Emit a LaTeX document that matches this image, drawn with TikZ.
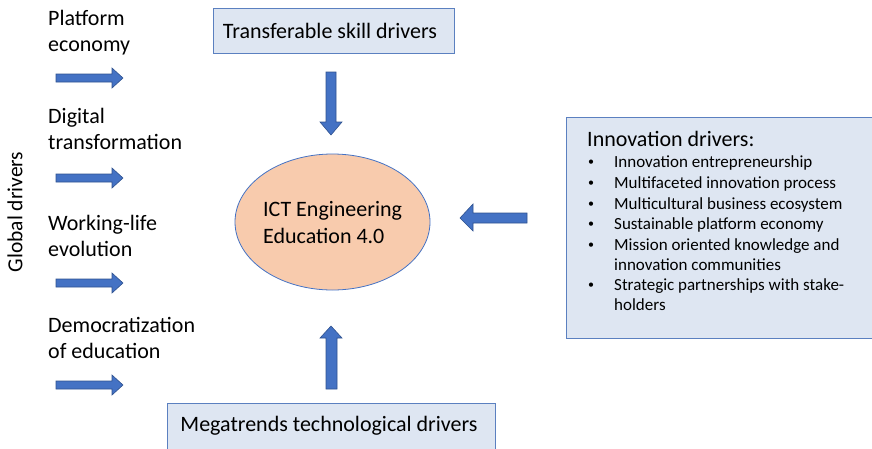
\documentclass[tikz,border=0pt]{standalone}
\usepackage{fontspec}
\setmainfont{Carlito}
\usetikzlibrary{shapes.geometric}
\definecolor{arrowblue}{HTML}{4472C4}
\definecolor{arrowedge}{HTML}{2F528F}
\definecolor{boxfill}{HTML}{DEE6F2}
\definecolor{boxedge}{HTML}{5B80C0}
\definecolor{peach}{HTML}{F8CBAD}
\tikzset{
  blockarrow/.style={fill=arrowblue, draw=arrowedge, line width=0.6pt, line join=miter},
  drvbox/.style={draw=boxedge, fill=boxfill, line width=1pt},
  lefttxt/.style={anchor=base west, inner sep=0pt, font=\fontsize{22}{26}\selectfont, align=left},
  boxtxt/.style={inner sep=0pt, font=\fontsize{22}{26}\selectfont},
  itemtxt/.style={anchor=base west, inner sep=0pt, font=\fontsize{17}{20}\selectfont},
  bullettxt/.style={anchor=base, inner sep=0pt, font=\fontsize{12}{14}\selectfont},
}
\begin{document}
\begin{tikzpicture}[x=1pt,y=-1pt]
\useasboundingbox (0,0) rectangle (872,448);
% global drivers label
\node[rotate=90, inner sep=0pt, font=\fontsize{21.5}{24}\selectfont] (global) at (15,212) {Global drivers};
% left texts (anchor at baseline of last line)
\node[lefttxt] (t1) at (48,51) {Platform\\economy};
\node[lefttxt] (t2) at (48,149) {Digital\\transformation};
\node[lefttxt] (t3) at (48,256) {Working-life\\evolution};
\node[lefttxt] (t4) at (48,358) {Democratization\\of education};
% left arrows
\foreach \y/\n in {78/a1,178/a2,283/a3,385/a4}{
  \draw[blockarrow] (56,\y-4) -- (112,\y-4) -- (112,\y-10) -- (123,\y) -- (112,\y+10) -- (112,\y+4) -- (56,\y+4) -- cycle;
}
% top box
\node[drvbox, minimum width=241pt, minimum height=45pt, inner sep=0pt] (top) at (333.5,30.5) {};
\node[boxtxt] (toptxt) at (330,31) {Transferable skill drivers};
% down arrow
\draw[blockarrow] (326,72) -- (336,72) -- (336,122) -- (342,122) -- (331,135) -- (320,122) -- (326,122) -- cycle;
% ellipse
\node[ellipse, draw=arrowblue, fill=peach, line width=0.8pt, minimum width=195pt, minimum height=136pt, inner sep=0pt] (ict) at (332.5,222) {};
\node[anchor=base west, inner sep=0pt, font=\fontsize{22}{27}\selectfont, align=left] (icttxt) at (263,243) {ICT Engineering\\Education 4.0};
% left-pointing arrow
\draw[blockarrow] (527,213) -- (473,213) -- (473,204) -- (460,218) -- (473,231) -- (473,223) -- (527,223) -- cycle;
% right box
\draw[drvbox] (566,117) rectangle (880,338);
\node[anchor=base west, inner sep=0pt, font=\fontsize{22}{26}\selectfont] (innt) at (587,146) {Innovation drivers:};
\foreach \y/\txt/\b in {
  167/Innovation entrepreneurship/1,
  188/Multifaceted innovation process/1,
  209/Multicultural business ecosystem/1,
  229/Sustainable platform economy/1,
  250/Mission oriented knowledge and/1,
  270/innovation communities/0,
  290/Strategic partnerships with stake-/1,
  310/holders/0}{
  \node[itemtxt] at (614,\y) {\txt};
  \ifnum\b=1 \node[bullettxt] at (591,\y-2) {•};\fi
}
% up arrow
\draw[blockarrow] (326,389) -- (326,338) -- (320,338) -- (331,326) -- (342,338) -- (337,338) -- (337,389) -- cycle;
% bottom box
\draw[drvbox] (167,403) rectangle (495,460);
\node[boxtxt] (bottxt) at (329,426) {Megatrends technological drivers};
\end{tikzpicture}
\end{document}
